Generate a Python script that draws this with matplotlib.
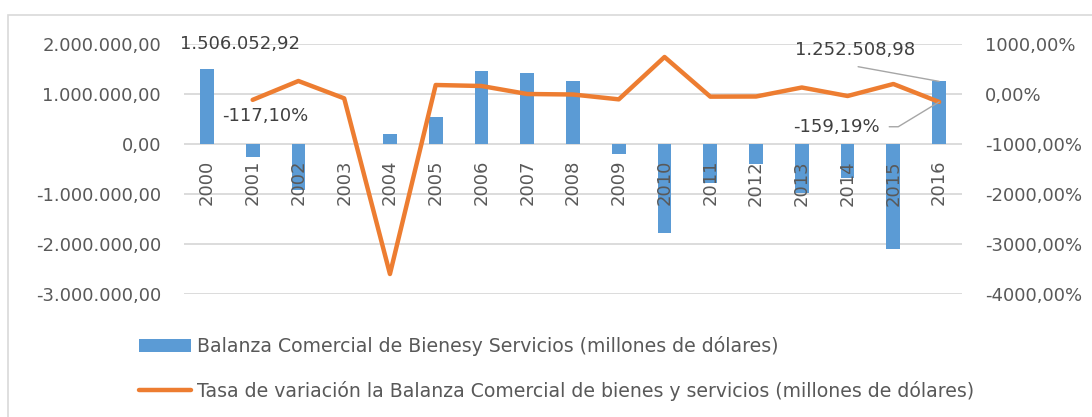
import numpy as np
import matplotlib
matplotlib.use("Agg")
import matplotlib.pyplot as plt
from matplotlib.patches import Rectangle

plt.rcParams['font.family'] = ['DejaVu Sans']
plt.rcParams['axes.unicode_minus'] = False

# datos
anios = [str(a) for a in range(2000, 2017)]
balanza = [1506052.92, -253000, -920000, -5400, 193000, 547000, 1460000, 1430000,
           1260000, -207000, -1770000, -770000, -390000, -970000, -680000,
           -2100000, 1252508.98]
tasa = [np.nan, -117.10, 260, -87, -3600, 180, 160, 0, -10, -107, 740, -53,
        -50, 130, -40, 200, -159.19]
ticks_izq = [-3000000, -2000000, -1000000, 0, 1000000, 2000000]
ticks_der = [-4000, -3000, -2000, -1000, 0, 1000]

etiqueta_barra = 'Balanza Comercial de Bienesy Servicios (millones de dólares)'
etiqueta_linea = 'Tasa de variación la Balanza Comercial de bienes y servicios (millones de dólares)'

azul = '#5B9BD5'
naranja = '#ED7D31'
gris_txt = '#595959'
gris_lin = '#d9d9d9'
fs = 13


def fmt_num(v):
    s = f"{v:,.2f}"
    return s.replace(',', 'X').replace('.', ',').replace('X', '.')


def fmt_pct(v):
    return f"{v:.2f}".replace('.', ',') + '%'


fig = plt.figure(figsize=(10.92, 4.17), dpi=100)
fig.add_artist(Rectangle((8 / 1092, -0.05), 1.1, 1 - 15 / 417 + 0.05,
                         transform=fig.transFigure, fill=False,
                         edgecolor=gris_lin, lw=1.2))

ax = fig.add_axes([184 / 1092, (417 - 294) / 417, 778 / 1092, 250 / 417])
x = np.arange(len(anios))
# lineas de cuadricula debajo de las barras, etiquetas encima
for t in ticks_izq:
    ax.axhline(t, color=gris_lin, lw=1.3, zorder=0.5)
barras = ax.bar(x, balanza, 0.3, color=azul, label=etiqueta_barra, zorder=1)
ax.spines['bottom'].set_position(('data', 0))
for s in ax.spines.values():
    s.set_visible(False)
ax.set_xlim(-0.5, len(anios) - 0.5)
ax.set_ylim(-3000000, 2000000)
ax.set_yticks(ticks_izq)
ax.set_yticklabels([fmt_num(v) for v in ticks_izq])
ax.set_xticks(x)
ax.set_xticklabels(anios)
ax.tick_params(axis='y', length=0, pad=16.5, labelsize=fs, labelcolor=gris_txt)
ax.tick_params(axis='x', length=0, pad=11.5, labelsize=fs, labelcolor=gris_txt,
               labelrotation=90)

ax.text(-0.577, 2000000, fmt_num(balanza[0]), ha='left', va='center',
        fontsize=fs, color='#404040')
ax.text(12.85, 1880000, fmt_num(balanza[-1]), ha='left', va='center',
        fontsize=fs, color='#404040')
ax.annotate('', xy=(16, balanza[-1]), xytext=(14.23, 1546000),
            arrowprops=dict(arrowstyle='-', color='#a6a6a6', lw=1,
                            shrinkA=0, shrinkB=0))

ax2 = ax.twinx()
linea, = ax2.plot(x, tasa, color=naranja, lw=3.2, solid_capstyle='round',
                  solid_joinstyle='round', label=etiqueta_linea)
ax2.set_ylim(-4000, 1000)
ax2.set_yticks(ticks_der)
ax2.set_yticklabels([fmt_pct(v) for v in ticks_der])
for s in ax2.spines.values():
    s.set_visible(False)
ax2.tick_params(axis='y', length=0, pad=16.5, labelsize=fs, labelcolor=gris_txt)

ax2.text(0.33, -440, fmt_pct(tasa[1]), ha='left', va='center',
         fontsize=fs, color='#404040')
ax2.text(14.70, -665, fmt_pct(tasa[-1]), ha='right', va='center',
         fontsize=fs, color='#404040')
ax2.annotate('', xy=(16, tasa[-1]), xytext=(14.91, -655),
             arrowprops=dict(arrowstyle='-', color='#a6a6a6', lw=1,
                             shrinkA=0, shrinkB=0,
                             connectionstyle='arc,angleA=0,armA=9,angleB=0,armB=0,rad=0'))

fig.legend([barras, linea], [etiqueta_barra, etiqueta_linea],
           loc='upper left', bbox_to_anchor=(139 / 1092, 1 - 336 / 417),
           frameon=False, fontsize=13.6, labelcolor=gris_txt,
           handlelength=2.75, handletextpad=0.3, labelspacing=1.3,
           borderpad=0, borderaxespad=0)

fig.savefig('out.png', dpi=100)
